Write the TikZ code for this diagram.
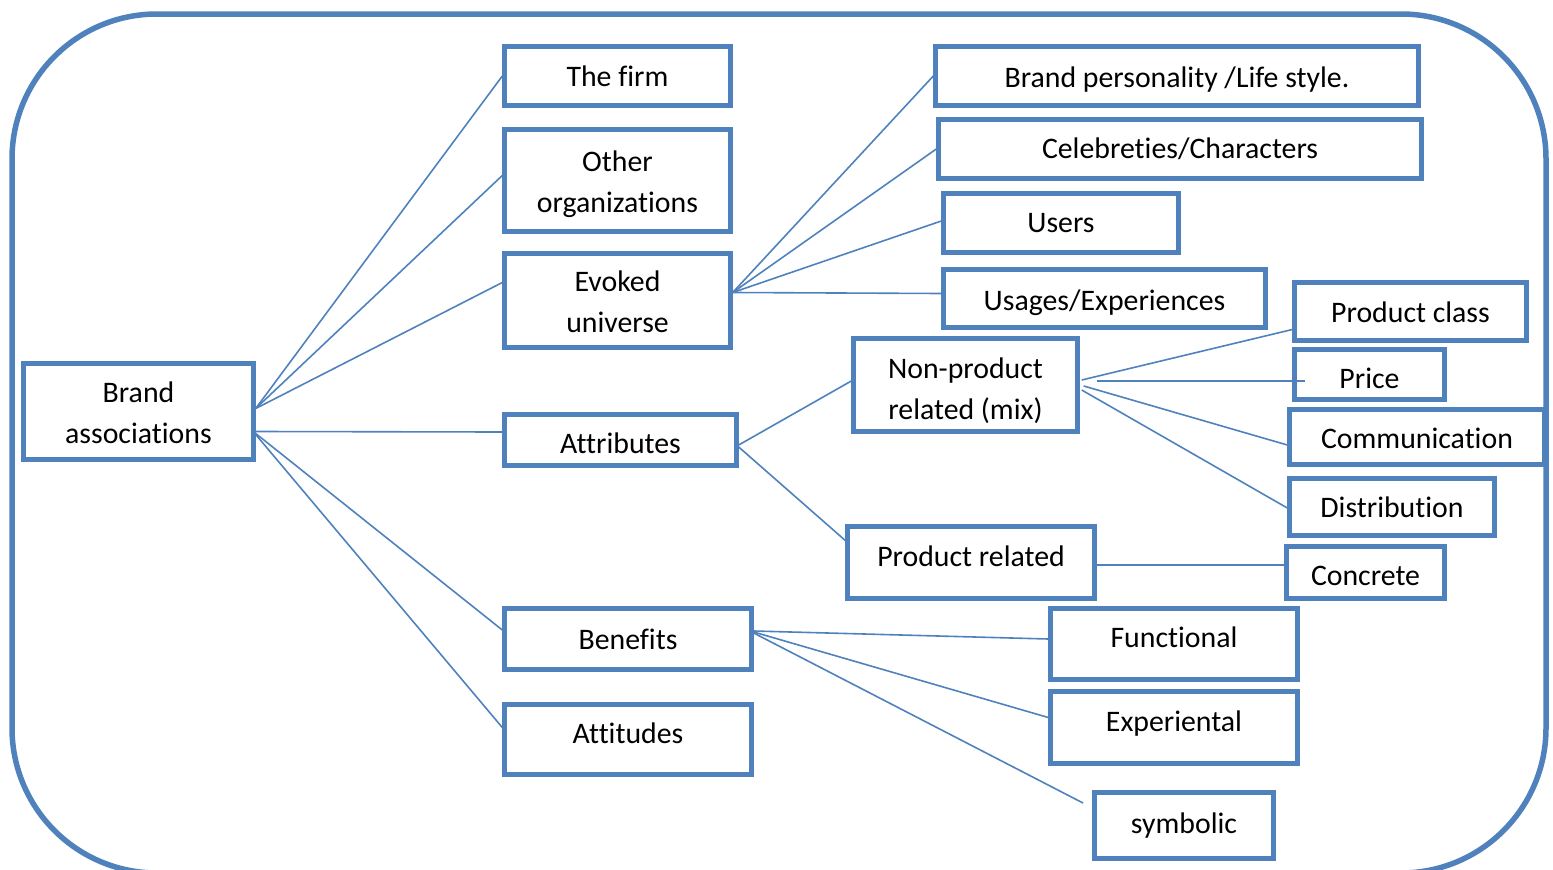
\documentclass[tikz,border=0pt]{standalone}
\usepackage{fontspec}
\setmainfont[Ligatures={NoCommon}]{Carlito}
\definecolor{acc}{RGB}{79,129,189}
\newcommand\mvtxt[2]{\raisebox{#1}[\height][\depth]{\begin{tabular}{@{}c@{}}#2\end{tabular}}}
\begin{document}
\begin{tikzpicture}[x=1pt,y=-1pt,
  bx/.style={draw=acc,line width=4.4pt,inner sep=0pt,align=center,
    font=\fontsize{29.8}{41}\selectfont,text=black},
  ln/.style={draw=acc,line width=1.6pt}]
\useasboundingbox (0,0) rectangle (1553,870);
\clip (0,0) rectangle (1553,870);
\draw[acc,line width=5.5pt,rounded corners=145pt] (12,14) rectangle (1546,873);
% left column
\node[bx,minimum width=230,minimum height=96] (ba) at (138.5,411.5) {\mvtxt{-3pt}{Brand\\associations}};
\node[bx,minimum width=226,minimum height=59] (firm) at (617.5,76) {The firm};
\node[bx,minimum width=226,minimum height=102] (oth) at (617.5,180.5) {\mvtxt{-3pt}{Other\\organizations}};
\node[bx,minimum width=226,minimum height=94] (evk) at (617.5,300.5) {\mvtxt{-3pt}{Evoked\\universe}};
\node[bx,minimum width=232,minimum height=51] (att) at (620.5,440) {\mvtxt{-5pt}{Attributes}};
\node[bx,minimum width=247,minimum height=61] (ben) at (628,639) {Benefits};
\node[bx,minimum width=247,minimum height=70] (atti) at (628,739.5) {\mvtxt{4pt}{Attitudes}};
% evoked universe children
\node[bx,minimum width=483,minimum height=59] (bp) at (1177,76) {\mvtxt{-3pt}{Brand personality /Life style.}};
\node[bx,minimum width=483,minimum height=59] (cel) at (1180,149) {Celebreties/Characters};
\node[bx,minimum width=235,minimum height=59] (usr) at (1061,223) {Users};
\node[bx,minimum width=322,minimum height=58] (usg) at (1104.5,298.5) {\mvtxt{-4pt}{Usages/Experiences}};
% attributes children
\node[bx,minimum width=224,minimum height=93] (np) at (965.5,385) {\mvtxt{-6pt}{Non-product\\related (mix)}};
\node[bx,minimum width=247,minimum height=72] (prd) at (971,562.5) {\mvtxt{4pt}{Product related}};
% non-product children
\node[bx,minimum width=232,minimum height=58] (pcl) at (1410.5,311.5) {\mvtxt{-3pt}{Product class}};
\node[bx,minimum width=150,minimum height=50] (pri) at (1369.5,374.5) {\mvtxt{-6pt}{Price}};
\node[bx,minimum width=255,minimum height=55] (com) at (1417,437) {\mvtxt{-3pt}{Communication}};
\node[bx,minimum width=205,minimum height=57] (dis) at (1392,507) {Distribution};
\node[bx,minimum width=158,minimum height=52] (con) at (1365.5,572.5) {\mvtxt{-5pt}{Concrete}};
% benefits children
\node[bx,minimum width=247,minimum height=71] (fun) at (1174,644) {\mvtxt{5pt}{Functional}};
\node[bx,minimum width=247,minimum height=72] (exp) at (1174,727.5) {\mvtxt{4pt}{Experiental}};
\node[bx,minimum width=179,minimum height=66] (sym) at (1184,825.5) {symbolic};
\coordinate (symend) at (1083,803);
% connectors from brand associations
\draw[ln] ([yshift=3pt]ba.east) -- (firm.west);
\draw[ln] ([yshift=3pt]ba.east) -- ([yshift=5pt]oth.west);
\draw[ln] ([yshift=3pt]ba.east) -- ([yshift=18pt]evk.west);
\draw[ln] ([yshift=-20pt]ba.east) -- ([yshift=8pt]att.west);
\draw[ln] ([yshift=-22pt]ba.east) -- ([yshift=9pt]ben.west);
\draw[ln] ([yshift=-23pt]ba.east) -- ([yshift=12pt]atti.west);
% evoked universe
\draw[ln] ([yshift=8pt]evk.east) -- (bp.west);
\draw[ln] ([yshift=8pt]evk.east) -- (cel.west);
\draw[ln] ([yshift=8pt]evk.east) -- ([yshift=2pt]usr.west);
\draw[ln] ([yshift=8pt]evk.east) -- ([yshift=5pt]usg.west);
% attributes
\draw[ln] ([yshift=-5pt]att.east) -- ([yshift=4pt]np.west);
\draw[ln] ([yshift=-7pt]att.east) -- ([yshift=22pt]prd.west);
% non-product
\draw[ln] ([xshift=2pt,yshift=5pt]np.east) -- ([yshift=-18pt]pcl.west);
\draw[ln] ([xshift=17pt,yshift=4pt]np.east) -- ([xshift=13pt,yshift=-6.5pt]pri.west);
\draw[ln] ([xshift=4pt,yshift=-1pt]np.east) -- ([yshift=-8pt]com.west);
\draw[ln] ([xshift=2pt,yshift=-5pt]np.east) -- ([yshift=-1pt]dis.west);
% product related
\draw[ln] ([yshift=-2.5pt]prd.east) -- ([yshift=7.5pt]con.west);
% benefits
\draw[ln] ([yshift=8pt]ben.east) -- ([yshift=5pt]fun.west);
\draw[ln] ([yshift=7pt]ben.east) -- ([yshift=10pt]exp.west);
\draw[ln] ([yshift=6pt]ben.east) -- (symend);
\end{tikzpicture}
\end{document}
